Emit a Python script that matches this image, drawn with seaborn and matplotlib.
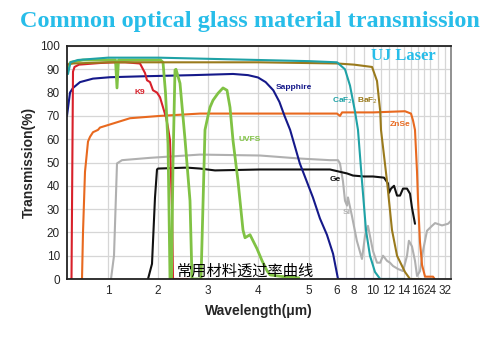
import numpy as np
import pandas as pd
import matplotlib
matplotlib.use("Agg")
import matplotlib.pyplot as plt
import seaborn as sns

# ---------------- data (wavelength in µm, transmission in %) ----------------
caf2_wl = [0.18, 0.19, 0.2, 0.25, 0.4, 1.0, 2.0, 3.0, 4.0, 5.0, 6.0, 6.94, 7.53, 8.1, 8.42, 8.84, 9.26, 9.68, 10.25, 10.9, 14.0]
caf2_t  = [91, 90, 88, 93, 94, 95, 95, 94.5, 94, 93.5, 93, 90, 83, 72, 64, 42, 21, 10, 3, 0, 0]

baf2_wl = [0.18, 0.3, 1.0, 2.0, 4.0, 6.0, 8.0, 9.9, 10.5, 10.9, 11.0, 11.75, 12.4, 13.07, 14.14, 14.86, 18.0]
baf2_t  = [92, 92.5, 93, 93, 93, 92.5, 92, 91, 85, 72, 64, 42, 21, 10, 3, 0, 0]

znse_wl = [0.46, 0.48, 0.5, 0.54, 0.6, 0.64, 0.7, 0.8, 0.84, 1.14, 1.44, 2.04, 2.84, 4.0, 6.0, 6.35, 6.6, 10.0, 14.14, 15.0, 15.29, 15.57, 15.86, 16.0, 17.3, 18.7, 20.7, 25.6, 26.5]
znse_t  = [0, 0, 20, 46, 59, 61, 63, 64, 65, 67, 69, 70, 71, 71, 71, 70, 71.5, 71.5, 72, 71, 68, 64, 46, 34, 16, 6, 1, 1, 0]

k9_wl = [0.25, 0.27, 0.3, 0.33, 0.42, 0.84, 1.14, 1.18, 1.21, 1.34, 1.64, 1.74, 1.78, 1.84, 1.9, 1.98, 2.04, 2.1, 2.16, 2.2, 2.24, 2.28, 2.3, 2.6]
k9_t  = [0, 0, 89, 91, 92, 92.7, 93, 91.5, 93, 93, 92.5, 88.4, 85.3, 84.5, 81, 80, 78, 73.7, 69.4, 65, 59.5, 30, 0, 0]

sapph_wl = [0.18, 0.24, 0.3, 0.44, 0.7, 1.04, 1.7, 2.7, 3.5, 3.8, 4.0, 4.15, 4.3, 4.42, 4.52, 4.63, 4.82, 5.14, 5.39, 5.64, 5.86, 5.93, 6.12, 14.0]
sapph_t  = [70, 80, 82, 84.5, 86, 86.6, 87, 87.5, 88, 87.5, 86.5, 84.5, 81, 76, 70, 64, 49.6, 35, 26, 19, 10.8, 6.5, 0, 0]

uvfs_wl = [0.18, 0.22, 0.25, 0.5, 1.15, 1.18, 1.21, 2.05, 2.1, 2.15, 2.2, 2.22, 2.24, 2.27, 2.3, 2.34, 2.36, 2.44, 2.54, 2.64, 2.68, 2.8, 2.86, 2.94, 3.0, 3.04, 3.1, 3.2, 3.3, 3.38, 3.44, 3.5, 3.6, 3.7, 3.74, 3.84, 3.98, 4.08, 4.18, 4.24, 4.5, 4.8]
uvfs_t  = [88, 92, 93, 94, 94, 82, 94, 94, 93, 80, 58, 30, 0, 0, 50, 89.7, 90, 84, 60, 33.6, 0, 0, 0, 64, 70, 73.7, 76.7, 79.7, 82, 81, 73.7, 59.5, 42, 21, 17.7, 19, 13, 7.8, 3.4, 1.7, 1, 0.5]

si_wl = [1.06, 1.12, 1.18, 1.28, 1.84, 2.84, 4.04, 4.82, 5.75, 6.12, 6.35, 6.7, 6.94, 7.18, 7.29, 7.76, 8.3, 8.84, 9.16, 9.47, 9.68, 10.0, 10.5, 10.9, 11.25, 11.75, 12.13, 12.53, 13.2, 13.87, 14.43, 14.7, 15.14, 15.57, 15.86, 17.33, 19.3, 22.0, 25.07, 26.7, 30.4, 33.6, 35.2]
si_t  = [0, 10, 49.6, 51, 52, 53.4, 53, 51.7, 51, 51, 49.6, 42, 33.6, 31.5, 35, 27, 16.4, 8.6, 18.5, 22.8, 18.5, 12, 7, 7, 10, 7.8, 7, 5.6, 4.3, 3.4, 10, 16.4, 14, 7.8, 1.3, 3.4, 12, 20.7, 22.8, 24, 23, 23.7, 25]

ge_wl = [1.8, 1.88, 1.94, 1.98, 2.0, 2.58, 2.84, 3.14, 4.04, 4.82, 5.75, 6.35, 7.18, 7.88, 9.05, 10.0, 11.38, 11.875, 12.0, 12.27, 12.67, 13.07, 13.47, 13.87, 14.43, 14.86, 15.14, 15.57]
ge_t  = [0, 6.5, 35, 47, 47.4, 47.8, 47.4, 46.6, 47, 47, 47, 46, 45.3, 44.4, 44, 44, 43.5, 41, 37, 38.8, 40, 35.8, 35.8, 38.8, 38.8, 36.6, 30.6, 23.7]

materials = ["CaF2", "BaF2", "ZnSe", "K9", "Sapphire", "UVFS", "Si", "Ge"]
x_ticks = [1, 2, 3, 4, 5, 6, 8, 10, 12, 14, 16, 24, 32]
x_tick_labels = ["1", "2", "3", "4", "5", "6", "8", "10", "12", "14", "16", "24", "32"]
y_ticks = [0, 10, 20, 30, 40, 50, 60, 70, 80, 90, 100]

series = {
    "CaF2": (caf2_wl, caf2_t), "BaF2": (baf2_wl, baf2_t), "ZnSe": (znse_wl, znse_t),
    "K9": (k9_wl, k9_t), "Sapphire": (sapph_wl, sapph_t), "UVFS": (uvfs_wl, uvfs_t),
    "Si": (si_wl, si_t), "Ge": (ge_wl, ge_t),
}

colors = {
    "CaF2": "#1fa2a6", "BaF2": "#9a7a1c", "ZnSe": "#e8691f", "K9": "#d8202a",
    "Sapphire": "#15198a", "UVFS": "#80c244", "Si": "#b0b0b0", "Ge": "#111111",
}

# ---------------- piecewise wavelength axis ----------------
knot_wl = np.array([0, 1, 2, 3, 4, 5, 6, 8, 10, 12, 14, 16, 24, 32, 40], dtype=float)
knot_px = np.array([58, 108, 158, 208, 258, 309, 337, 354, 373, 389, 404, 418, 430, 445, 460], dtype=float)

def fwd(x):
    return np.interp(x, knot_wl, knot_px)

def inv(p):
    return np.interp(p, knot_px, knot_wl)

sns.set_style("white")
plt.rcParams["font.family"] = ["Liberation Sans", "DejaVu Sans"]

fig = plt.figure(figsize=(5.0, 3.46), dpi=100)
ax = fig.add_axes([67 / 500, 1 - 279 / 346, (451 - 67) / 500, (279 - 46) / 346])
ax.set_xscale("function", functions=(fwd, inv))

order = ["Si", "Ge", "ZnSe", "Sapphire", "K9", "UVFS", "BaF2", "CaF2"]
for m in order:
    wl, t = series[m]
    df = pd.DataFrame({"wl": wl, "T": t})
    lw = 2.0 if m == "UVFS" else 1.5
    sns.lineplot(data=df, x="wl", y="T", ax=ax, color=colors[m], sort=False,
                 estimator=None, linewidth=lw, legend=False)

ax.set_xlim(0.18, 35.2)
ax.set_ylim(0, 100)
ax.set_xticks(x_ticks)
ax.set_xticklabels(x_tick_labels, fontsize=8.5)
ax.set_xticks([7, 9, 11, 13, 15, 20, 28], minor=True)
ax.set_yticks(y_ticks)
ax.set_yticklabels([str(v) for v in y_ticks], fontsize=8.5)
ax.tick_params(axis="both", length=0, pad=4)
ax.tick_params(axis="y", pad=5)
ax.grid(True, which="both", color="#d6d6d6", linewidth=0.9)
ax.set_axisbelow(True)
for s in ["left", "bottom", "top"]:
    ax.spines[s].set_color("#222222")
    ax.spines[s].set_linewidth(1.3)
ax.spines["right"].set_color("#888888")
ax.spines["right"].set_linewidth(1.3)

ax.set_xlabel("Wavelength(\u03bcm)", fontsize=10, fontweight="bold", labelpad=5)
ax.set_ylabel("Transmission(%)", fontsize=10, fontweight="bold", labelpad=3)

# curve labels
lab_kw = dict(fontsize=6, fontweight="bold", ha="center", va="center")
ax.text(1.64, 80, "K9", color=colors["K9"], **lab_kw)
ax.text(4.7, 82, "Sapphire", color=colors["Sapphire"], **lab_kw)
ax.text(3.84, 60, "UVFS", color=colors["UVFS"], **lab_kw)
ax.text(6.7, 76.7, "CaF$_2$", color=colors["CaF2"], **lab_kw)
ax.text(9.4, 76.7, "BaF$_2$", color=colors["BaF2"], **lab_kw)
ax.text(13.5, 66.4, "ZnSe", color=colors["ZnSe"], **lab_kw)
ax.text(5.93, 42.7, "Ge", color=colors["Ge"], **lab_kw)
ax.text(7.18, 28.4, "Si", color=colors["Si"], **lab_kw)

ax.text(0.96, 0.955, "UJ Laser", transform=ax.transAxes, ha="right", va="center",
        fontsize=12, fontweight="bold", color="#27bde9", family=["Liberation Serif", "DejaVu Serif"])
ax.text(0.464, 0.035, "常用材料透过率曲线", transform=ax.transAxes, ha="center", va="center",
        fontsize=11, color="black", family=["Noto Sans CJK SC", "DejaVu Sans"])

fig.text(0.5, 1 - 22 / 346, "Common optical glass material transmission", ha="center", va="center",
         fontsize=17.5, fontweight="bold", color="#27bde9", family=["Liberation Serif", "DejaVu Serif"])

fig.savefig("out.png", dpi=100, facecolor="white")
